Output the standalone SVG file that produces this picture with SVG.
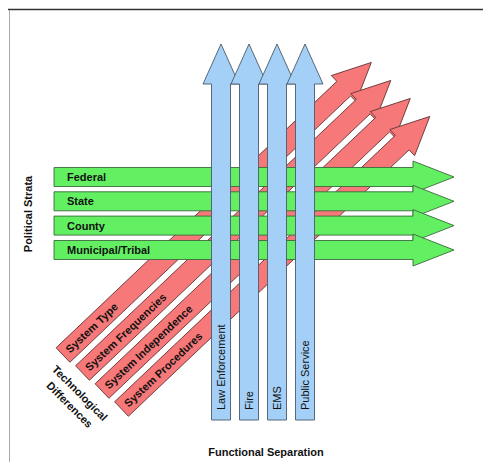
<svg xmlns="http://www.w3.org/2000/svg" xmlns:xlink="http://www.w3.org/1999/xlink" width="483" height="462" viewBox="0 0 483 462">
<style>
.red{fill:#f67878;stroke:#6a3a3a;stroke-width:0.9}
.grn{fill:#62f062;stroke:#3c6a3c;stroke-width:0.9}
.blu{fill:#a4cff6;stroke:#4a5a6a;stroke-width:0.9}
text{font-family:"Liberation Sans",Arial,sans-serif;font-size:11px;fill:#111}
.b{font-weight:bold}
</style>
<defs>
<path id="ra" d="M0,-10 H387 V-18 L425,0 L387,18 V10 H0 Z"/>
<path id="ga" d="M54,-9.5 H413 V-16 L454,0 L413,16 V9.5 H54 Z"/>
<path id="ba" d="M-9.5,420 V84 H-18 L0,44 L18,84 H9.5 V420 Z"/>
</defs>
<rect width="483" height="462" fill="#fff"/>
<line x1="8" y1="9.5" x2="483" y2="9.5" stroke="#333" stroke-width="1.5"/>
<line x1="9.5" y1="10" x2="9.5" y2="462" stroke="#aaa" stroke-width="1"/>
<g id="connectors"></g>
<g id="tech">
<g id="sys-type" transform="translate(63,355) rotate(-43.5)"><use xlink:href="#ra" class="red"/><text x="6" y="4" class="b">System Type</text></g>
<g id="sys-freq" transform="translate(82.5,373) rotate(-43.5)"><use xlink:href="#ra" class="red"/><text x="6" y="4" class="b">System Frequencies</text></g>
<g id="sys-indep" transform="translate(102,391) rotate(-43.5)"><use xlink:href="#ra" class="red"/><text x="6" y="4" class="b">System Independence</text></g>
<g id="sys-proc" transform="translate(121.5,409) rotate(-43.5)"><use xlink:href="#ra" class="red"/><text x="6" y="4" class="b">System Procedures</text></g>
</g>
<g id="political">
<g id="federal" transform="translate(0,177)"><use xlink:href="#ga" class="grn"/><text x="67" y="4" class="b">Federal</text></g>
<g id="state" transform="translate(0,201.3)"><use xlink:href="#ga" class="grn"/><text x="67" y="4" class="b">State</text></g>
<g id="county" transform="translate(0,225.6)"><use xlink:href="#ga" class="grn"/><text x="67" y="4" class="b">County</text></g>
<g id="municipal" transform="translate(0,250)"><use xlink:href="#ga" class="grn"/><text x="67" y="4" class="b">Municipal/Tribal</text></g>
</g>
<g id="functional">
<g id="law" transform="translate(221,0)"><use xlink:href="#ba" class="blu"/><text transform="translate(4,410) rotate(-90)">Law Enforcement</text></g>
<g id="fire" transform="translate(249,0)"><use xlink:href="#ba" class="blu"/><text transform="translate(4,410) rotate(-90)">Fire</text></g>
<g id="ems" transform="translate(277,0)"><use xlink:href="#ba" class="blu"/><text transform="translate(4,410) rotate(-90)">EMS</text></g>
<g id="public" transform="translate(305,0)"><use xlink:href="#ba" class="blu"/><text transform="translate(4,410) rotate(-90)">Public Service</text></g>
</g>
<g id="titles">
<text class="b" text-anchor="middle" transform="translate(32,214) rotate(-90)">Political Strata</text>
<text class="b" text-anchor="middle" x="266" y="456">Functional Separation</text>
<g transform="translate(80,393) rotate(45)">
<text class="b" text-anchor="middle" x="0" y="4">Technological</text>
<text class="b" text-anchor="middle" x="1" y="19.5">Differences</text>
</g>
</g>
</svg>
